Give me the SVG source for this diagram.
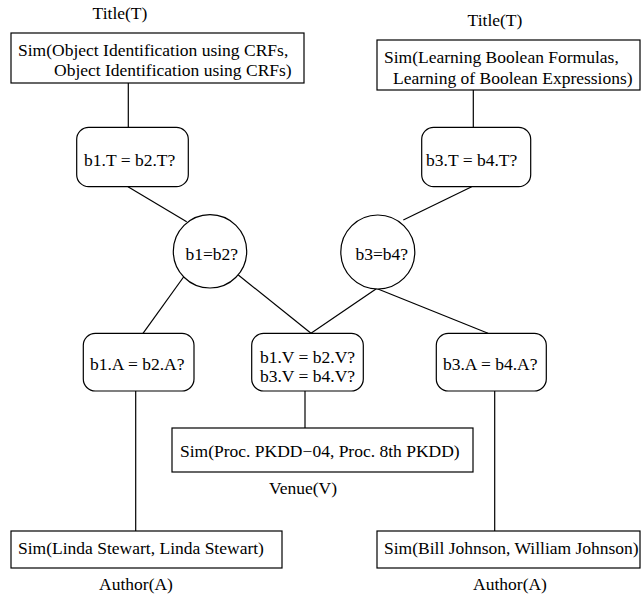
<svg xmlns="http://www.w3.org/2000/svg" width="641" height="600" viewBox="0 0 641 600">
<style>
text{font-family:"Liberation Serif","Times New Roman",serif;font-size:17.5px;fill:#000}
.m{text-anchor:middle}
.b{fill:#fff;stroke:#000;stroke-width:1.2}
.c line{stroke:#000;stroke-width:1.2}
</style>
<rect width="641" height="600" fill="#fff"/>
<g class="c" id="connectors">
<line x1="128.3" y1="83" x2="128.3" y2="127"/>
<line x1="473.3" y1="90" x2="473.3" y2="127"/>
<line x1="128" y1="186.7" x2="186.7" y2="221.7"/>
<line x1="471.7" y1="186.7" x2="403.3" y2="220"/>
<line x1="185" y1="275" x2="143" y2="333.3"/>
<line x1="238.3" y1="275" x2="311" y2="333.3"/>
<line x1="376.7" y1="288.5" x2="311" y2="333.3"/>
<line x1="376.7" y1="288.5" x2="488" y2="333.3"/>
<line x1="135.7" y1="391" x2="135.7" y2="531"/>
<line x1="305" y1="391" x2="305" y2="428"/>
<line x1="494.7" y1="391" x2="494.7" y2="531"/>
</g>
<g id="titleLeft">
<text class="m" x="120" y="19">Title(T)</text>
<rect class="b" x="11" y="33" width="293" height="50"/>
<text x="18" y="55.5">Sim(Object Identification using CRFs,</text>
<text x="54" y="76">Object Identification using CRFs)</text>
</g>
<g id="titleRight">
<text class="m" x="495" y="25.5">Title(T)</text>
<rect class="b" x="377" y="40" width="263" height="50"/>
<text x="384" y="62.5">Sim(Learning Boolean Formulas,</text>
<text x="393" y="84">Learning of Boolean Expressions)</text>
</g>
<g id="b1T"><rect class="b" x="76.7" y="127.3" width="111.6" height="59.4" rx="12"/><text class="m" x="129.7" y="166">b1.T = b2.T?</text></g>
<g id="b3T"><rect class="b" x="421.7" y="127.3" width="109" height="59.4" rx="12"/><text class="m" x="471.7" y="166">b3.T = b4.T?</text></g>
<g id="b1b2"><circle class="b" cx="210" cy="251.3" r="36.7"/><text class="m" x="211.7" y="260">b1=b2?</text></g>
<g id="b3b4"><circle class="b" cx="377.8" cy="252" r="37"/><text class="m" x="381.7" y="260">b3=b4?</text></g>
<g id="b1A"><rect class="b" x="83.3" y="333.3" width="110.7" height="57.7" rx="12"/><text class="m" x="137.2" y="370">b1.A = b2.A?</text></g>
<g id="bV"><rect class="b" x="251.7" y="333.3" width="111.6" height="57.7" rx="12"/><text class="m" x="307.5" y="363.3">b1.V = b2.V?</text><text class="m" x="307.5" y="381.5">b3.V = b4.V?</text></g>
<g id="b3A"><rect class="b" x="436.3" y="333.3" width="110" height="57.7" rx="12"/><text class="m" x="490.2" y="370">b3.A = b4.A?</text></g>
<g id="venue">
<rect class="b" x="172" y="428" width="301" height="44"/>
<text x="180" y="457">Sim(Proc. PKDD−04, Proc. 8th PKDD)</text>
<text class="m" x="303" y="494">Venue(V)</text>
</g>
<g id="authorLeft">
<rect class="b" x="11" y="531" width="271" height="37"/>
<text x="18" y="554">Sim(Linda Stewart, Linda Stewart)</text>
<text class="m" x="136" y="590">Author(A)</text>
</g>
<g id="authorRight">
<rect class="b" x="377" y="531" width="263" height="37"/>
<text x="384" y="554">Sim(Bill Johnson, William Johnson)</text>
<text class="m" x="510" y="590">Author(A)</text>
</g>
</svg>
